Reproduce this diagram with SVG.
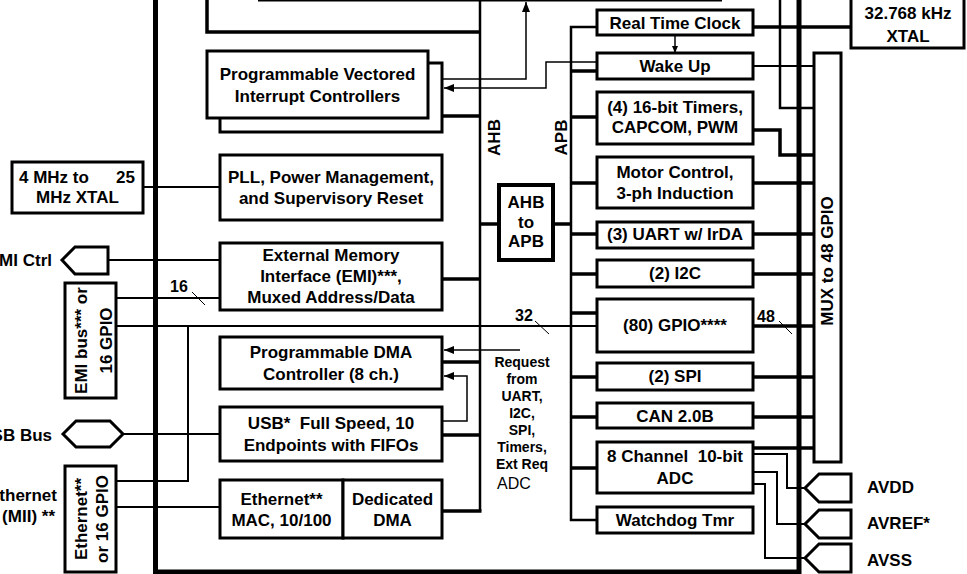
<svg xmlns="http://www.w3.org/2000/svg" width="967" height="574" viewBox="0 0 967 574">
<defs>
<style>
text{font-family:"Liberation Sans",Arial,sans-serif;font-weight:bold;font-size:17px;fill:#000}
.c{text-anchor:middle}
.e{text-anchor:end}
.box{fill:#fff;stroke:#000;stroke-width:3}
.bx4{fill:#fff;stroke:#000;stroke-width:4}
.chip{fill:none;stroke:#000;stroke-width:5}
.bus{fill:none;stroke:#000;stroke-width:2.5}
.stub{fill:none;stroke:#000;stroke-width:3.5}
.thin{fill:none;stroke:#000;stroke-width:2}
.fine{fill:none;stroke:#000;stroke-width:1.5}
.hair{fill:none;stroke:#000;stroke-width:1}
.sm{font-size:14px}
.lbl{font-size:16px}
.reg{font-weight:normal;font-size:16px}
</style>
<marker id="ah" viewBox="0 0 10 8" refX="10" refY="4" markerWidth="10" markerHeight="8" markerUnits="userSpaceOnUse" orient="auto"><path d="M0,0 L10,4 L0,8 z" fill="#000"/></marker>
<marker id="ahs" viewBox="0 0 7 6" refX="7" refY="3" markerWidth="7" markerHeight="6" markerUnits="userSpaceOnUse" orient="auto"><path d="M0,0 L7,3 L0,6 z" fill="#000"/></marker>
</defs>
<rect width="967" height="574" fill="#fff"/>

<g id="connectors">
  <!-- buses -->
  <path class="bus" d="M480,-5 V511"/>
  <path class="bus" d="M597,27 H571 V520 H597"/>
  <!-- AHB stubs -->
  <path class="stub" d="M442,116 H481"/>
  <path class="stub" d="M442,279 H481"/>
  <path class="stub" d="M442,362 H481"/>
  <path class="stub" d="M442,435 H481"/>
  <path class="stub" d="M442,511 H481.5"/>
  <path class="stub" d="M480,224 H499 M553,224 H571"/>
  <!-- APB stubs -->
  <path class="stub" d="M571,71 H597 M571,117 H597 M571,183 H597 M571,234 H597 M571,274 H597 M571,313 H597 M571,377 H597 M571,417 H597 M571,468 H597"/>
  <!-- left side lines -->
  <path class="thin" d="M143,187 H220"/>
  <path class="thin" d="M108,260 H220"/>
  <path class="thin" d="M116,298 H220"/>
  <path class="thin" d="M116,326 H597"/>
  <path class="thin" d="M116,481 H188 V326"/>
  <path class="thin" d="M123,434 H220"/>
  <path class="thin" d="M116,507 H220"/>
  <path class="hair" d="M192,292 L205,305 M535,321 L549,334 M779,321 L792,334"/>
  <!-- right side lines -->
  <path class="stub" d="M753,27 H851"/>
  <path class="thin" d="M753,66 H814"/>
  <path class="bus" d="M780,-5 V108 H814"/>
  <path class="stub" d="M753,130 H780 V155 H814"/>
  <path class="stub" d="M753,183 H814 M753,234 H814 M753,274 H814 M753,326 H814 M753,377 H814 M753,417 H814 M753,448 H814"/>
  <path class="thin" d="M753,454 H787 V488 H806"/>
  <path class="thin" d="M753,472 H777 V524 H806"/>
  <path class="thin" d="M753,484 H765 V558 H806"/>
  <!-- arrows -->
  <path class="fine" d="M675,35 V53" marker-end="url(#ahs)"/>
  <path class="fine" d="M597,62 H546 V88 H444" marker-end="url(#ah)"/>
  <path class="fine" d="M442,79 H526 V2" marker-end="url(#ah)"/>
  <path class="fine" d="M520,350 H444" marker-end="url(#ah)"/>
  <path class="fine" d="M442,421 H467 V376 H444" marker-end="url(#ah)"/>
</g>

<g id="chip"><rect class="chip" x="155.5" y="-10" width="643.5" height="582"/></g>
<g id="cpu"><path class="stub" d="M207,-5 V32 H480"/><path class="fine" d="M258,0.8 H722"/></g>

<g id="vic">
  <rect class="box" x="220" y="63" width="222" height="69"/>
  <rect class="box" x="207" y="51" width="221" height="67"/>
  <text class="c" x="317.5" y="80">Programmable Vectored</text>
  <text class="c" x="317.5" y="102">Interrupt Controllers</text>
</g>
<g id="pll">
  <rect class="box" x="220" y="155" width="222" height="65"/>
  <text class="c" x="331" y="182.5">PLL, Power Management,</text>
  <text class="c" x="331" y="203.5">and Supervisory Reset</text>
</g>
<g id="emi">
  <rect class="box" x="220" y="243" width="222" height="67"/>
  <text class="c" x="331" y="260.5">External Memory</text>
  <text class="c" x="331" y="281.5">Interface (EMI)***,</text>
  <text class="c" x="331" y="303">Muxed Address/Data</text>
</g>
<g id="dma">
  <rect class="box" x="220" y="337" width="222" height="52"/>
  <text class="c" x="331" y="358">Programmable DMA</text>
  <text class="c" x="331" y="380">Controller (8 ch.)</text>
</g>
<g id="usb">
  <rect class="box" x="220" y="407" width="222" height="54"/>
  <text class="c" x="331" y="429" xml:space="preserve">USB*  Full Speed, 10</text>
  <text class="c" x="331" y="450.5">Endpoints with FIFOs</text>
</g>
<g id="ethmac">
  <rect class="box" x="220" y="480" width="123" height="58"/>
  <text class="c" x="281.5" y="504.5">Ethernet**</text>
  <text class="c" x="281.5" y="525.5">MAC, 10/100</text>
</g>
<g id="ethdma">
  <rect class="box" x="343" y="480" width="99" height="58"/>
  <text class="c" x="392.5" y="504.5">Dedicated</text>
  <text class="c" x="392.5" y="525.5">DMA</text>
</g>
<g id="xtal4">
  <rect class="box" x="12" y="162" width="131" height="51"/>
  <text y="182.5"><tspan x="19">4 MHz to</tspan><tspan x="135" text-anchor="end">25</tspan></text>
  <text class="c" x="77.5" y="203">MHz XTAL</text>
</g>
<g id="emictrl">
  <path class="box" d="M62,260 L75,247 H108 V274 H75 Z"/>
  <text class="e" x="52" y="266">EMI Ctrl</text>
</g>
<g id="emibus">
  <rect class="box" x="65" y="283" width="51" height="115"/>
  <text class="c" transform="translate(87,340.5) rotate(-90)">EMI bus*** or</text>
  <text class="c" transform="translate(112,340.5) rotate(-90)">16 GPIO</text>
</g>
<g id="usbbus">
  <path class="box" d="M63,434 L76,421 H110 L123,434 L110,447 H76 Z"/>
  <text class="e" x="52" y="440.5">USB Bus</text>
</g>
<g id="ethport">
  <rect class="box" x="65" y="466" width="51" height="106"/>
  <text class="c" transform="translate(87,519) rotate(-90)">Ethernet**</text>
  <text class="c" transform="translate(108,519) rotate(-90)">or 16 GPIO</text>
  <text class="e" x="57" y="500.5">Ethernet</text>
  <text class="e" x="55" y="522">(MII) **</text>
</g>

<g id="buslabels">
  <text class="c" transform="translate(500,137.5) rotate(-90)">AHB</text>
  <text class="c" transform="translate(567,137.5) rotate(-90)">APB</text>
  <text class="lbl" x="170" y="291.5">16</text>
  <text class="lbl" x="515" y="320.5">32</text>
  <text class="lbl" x="757" y="321.5">48</text>
</g>
<g id="request">
  <text class="c sm" x="522" y="367">Request</text>
  <text class="c sm" x="522" y="384">from</text>
  <text class="c sm" x="522" y="401">UART,</text>
  <text class="c sm" x="522" y="418">I2C,</text>
  <text class="c sm" x="522" y="435">SPI,</text>
  <text class="c sm" x="522" y="452">Timers,</text>
  <text class="c sm" x="522" y="469">Ext Req</text>
  <text class="reg" x="497" y="489">ADC</text>
</g>

<g id="ahb2apb">
  <rect class="bx4" x="499" y="185" width="54" height="75"/>
  <text class="c" x="526" y="208">AHB</text>
  <text class="c" x="526" y="228">to</text>
  <text class="c" x="526" y="247">APB</text>
</g>

<g id="rtc"><rect class="box" x="597" y="10" width="156" height="25"/><text class="c" x="675" y="29">Real Time Clock</text></g>
<g id="wakeup"><rect class="box" x="597" y="53" width="156" height="26"/><text class="c" x="675" y="72">Wake Up</text></g>
<g id="timers"><rect class="box" x="597" y="92" width="156" height="52"/><text class="c" x="675" y="113">(4) 16-bit Timers,</text><text class="c" x="675" y="133">CAPCOM, PWM</text></g>
<g id="motor"><rect class="box" x="597" y="157" width="156" height="51"/><text class="c" x="675" y="178">Motor Control,</text><text class="c" x="675" y="198.5">3-ph Induction</text></g>
<g id="uart"><rect class="box" x="597" y="222" width="156" height="26"/><text class="c" x="675" y="240">(3) UART w/ IrDA</text></g>
<g id="i2c"><rect class="box" x="597" y="260" width="156" height="27"/><text class="c" x="675" y="279">(2) I2C</text></g>
<g id="gpio"><rect class="box" x="597" y="299" width="156" height="53"/><text class="c" x="675" y="331">(80) GPIO****</text></g>
<g id="spi"><rect class="box" x="597" y="363" width="156" height="27"/><text class="c" x="675" y="382">(2) SPI</text></g>
<g id="can"><rect class="box" x="597" y="403" width="156" height="25"/><text class="c" x="675" y="422">CAN 2.0B</text></g>
<g id="adc"><rect class="box" x="597" y="442" width="156" height="51"/><text class="c" x="675" y="462" xml:space="preserve">8 Channel  10-bit</text><text class="c" x="675" y="484">ADC</text></g>
<g id="wdt"><rect class="box" x="597" y="507" width="156" height="26"/><text class="c" x="675" y="526">Watchdog Tmr</text></g>

<g id="mux"><rect class="box" x="814" y="53" width="27" height="409"/><text class="c" transform="translate(833,261) rotate(-90)">MUX to 48 GPIO</text></g>
<g id="xtal32"><rect class="box" x="851" y="-3" width="113" height="51"/><text class="c" x="908" y="19">32.768 kHz</text><text class="c" x="908" y="41.5">XTAL</text></g>

<g id="avdd"><path class="box" d="M805,488 L819,474 H851 V502 H819 Z"/><text x="867" y="493">AVDD</text></g>
<g id="avref"><path class="box" d="M805,524 L819,510 H851 V538 H819 Z"/><text x="867" y="529">AVREF*</text></g>
<g id="avss"><path class="box" d="M805,558 L819,544 H851 V572 H819 Z"/><text x="867" y="566">AVSS</text></g>
</svg>
